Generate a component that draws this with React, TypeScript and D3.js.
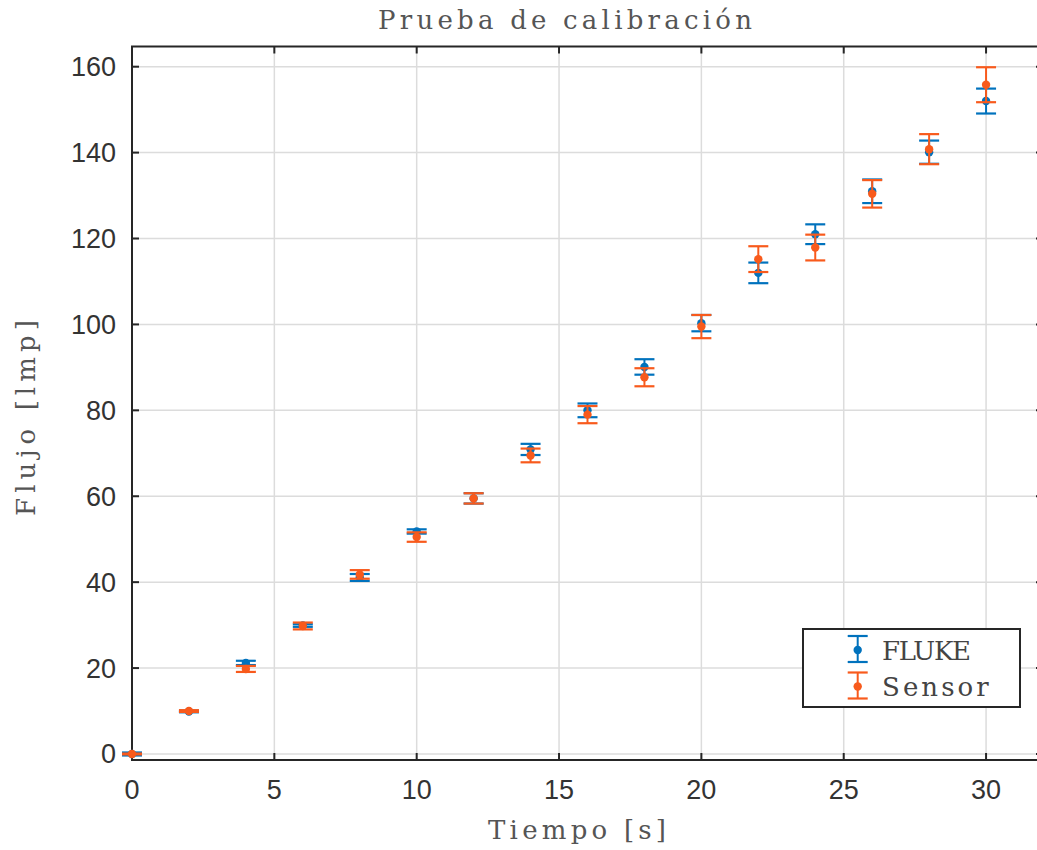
import React from "react";
import * as d3 from "d3";

const tiempo = [0, 2, 4, 6, 8, 10, 12, 14, 16, 18, 20, 22, 24, 26, 28, 30];
const flukeValues = [0, 9.9, 21.2, 29.9, 41.1, 51.8, 59.5, 70.9, 80.0, 90.1, 100.3, 112.0, 121.0, 131.0, 140.1, 152.0];
const flukeErrors = [0.35, 0.2, 0.5, 0.3, 0.8, 0.5, 1.2, 1.3, 1.6, 1.8, 1.9, 2.4, 2.3, 2.75, 2.7, 2.9];
const sensorValues = [0, 10.0, 19.8, 29.8, 41.8, 50.5, 59.5, 69.5, 79.0, 87.7, 99.5, 115.2, 117.9, 130.4, 140.8, 155.8];
const sensorErrors = [0.1, 0.2, 0.7, 0.8, 1.0, 1.1, 1.2, 1.6, 2.0, 2.1, 2.7, 3.0, 3.0, 3.2, 3.5, 4.07];
const xTicks = [0, 5, 10, 15, 20, 25, 30];
const yTicks = [0, 20, 40, 60, 80, 100, 120, 140, 160];
const seriesNames = ["FLUKE", "Sensor"];
const seriesColors = ["#0072BD", "#F85A1C"];

const W = 1037;
const H = 850;
const left = 132;
const right = 1043;
const top = 46.5;
const bottom = 760;

const x = d3.scaleLinear().domain([0, 32]).range([left, right]);
const y = d3.scaleLinear().domain([-1.4, 164.7]).range([bottom, top]);

const labelFont = "'DejaVu Serif', serif";
const tickFont = "'Liberation Sans', Arial, sans-serif";
const CHAR = 17.8;

function ErrorSeries({ vals, errs, color }: { vals: number[]; errs: number[]; color: string }) {
  const cap = 10;
  return (
    <g stroke={color} fill={color}>
      {tiempo.map((t, i) => {
        const cx = x(t);
        const y1 = y(vals[i] + errs[i]);
        const y2 = y(vals[i] - errs[i]);
        return (
          <g key={i}>
            <line x1={cx} x2={cx} y1={y1} y2={y2} strokeWidth={2} />
            <line x1={cx - cap} x2={cx + cap} y1={y1} y2={y1} strokeWidth={2.2} />
            <line x1={cx - cap} x2={cx + cap} y1={y2} y2={y2} strokeWidth={2.2} />
            <circle cx={cx} cy={y(vals[i])} r={4.2} stroke="none" />
          </g>
        );
      })}
    </g>
  );
}

export default function App() {
  const axisColor = "#262626";
  const tickLen = 7;
  const series = [
    { vals: flukeValues, errs: flukeErrors },
    { vals: sensorValues, errs: sensorErrors },
  ];
  return (
    <svg
      width={W}
      height={H}
      style={{ position: "absolute", left: 0, top: 0, background: "#fff" }}
    >
      <rect x={0} y={0} width={W} height={H} fill="#fff" />
      {/* grid */}
      <g stroke="#dcdcdc" strokeWidth={1.5}>
        {xTicks.map((t) => (
          <line key={"gx" + t} x1={x(t)} x2={x(t)} y1={top} y2={bottom} />
        ))}
        {yTicks.map((t) => (
          <line key={"gy" + t} x1={left} x2={right} y1={y(t)} y2={y(t)} />
        ))}
      </g>
      {/* box and ticks */}
      <g stroke={axisColor} strokeWidth={2} fill="none">
        <rect x={left} y={top} width={right - left} height={bottom - top} />
        {xTicks.map((t) => (
          <g key={"tx" + t}>
            <line x1={x(t)} x2={x(t)} y1={bottom} y2={bottom - tickLen} />
            <line x1={x(t)} x2={x(t)} y1={top} y2={top + tickLen} />
          </g>
        ))}
        {yTicks.map((t) => (
          <g key={"ty" + t}>
            <line x1={left} x2={left + tickLen} y1={y(t)} y2={y(t)} />
            <line x1={right} x2={right - tickLen} y1={y(t)} y2={y(t)} />
          </g>
        ))}
      </g>
      {/* tick labels */}
      <g fill="#333" fontFamily={tickFont} fontSize={27}>
        {xTicks.map((t) => (
          <text key={"lx" + t} x={x(t)} y={799} textAnchor="middle">
            {t}
          </text>
        ))}
        {yTicks.map((t) => (
          <text key={"ly" + t} x={116} y={y(t) + 9.5} textAnchor="end">
            {t}
          </text>
        ))}
      </g>
      {/* data */}
      {series.map((s, i) => (
        <ErrorSeries key={i} vals={s.vals} errs={s.errs} color={seriesColors[i]} />
      ))}
      {/* title and labels */}
      <g fill="#555" fontFamily={labelFont} fontSize={26}>
        <text x={565} y={29} textAnchor="middle" textLength={21 * CHAR} lengthAdjust="spacing">
          Prueba de calibración
        </text>
        <text x={577} y={839} textAnchor="middle" textLength={10 * CHAR} lengthAdjust="spacing">
          Tiempo [s]
        </text>
        <text
          transform={`translate(35,418) rotate(-90)`}
          textAnchor="middle"
          textLength={11 * CHAR}
          lengthAdjust="spacing"
        >
          Flujo [lmp]
        </text>
      </g>
      {/* legend */}
      <g>
        <rect x={803} y={629} width={217} height={78} fill="#fff" stroke={axisColor} strokeWidth={2} />
        {seriesNames.map((name, i) => {
          const cy = 649 + i * 36.5;
          const lx = 857.7;
          return (
            <g key={name}>
              <g stroke={seriesColors[i]} fill={seriesColors[i]}>
                <line x1={lx} x2={lx} y1={cy - 13} y2={cy + 13} strokeWidth={2} />
                <line x1={lx - 10} x2={lx + 10} y1={cy - 13} y2={cy - 13} strokeWidth={2.2} />
                <line x1={lx - 10} x2={lx + 10} y1={cy + 13} y2={cy + 13} strokeWidth={2.2} />
                <circle cx={lx} cy={cy + 1} r={4.2} stroke="none" />
              </g>
              <text
                x={882}
                y={cy + 10.5}
                fill="#444"
                fontFamily={labelFont}
                fontSize={26}
                textLength={name.length * CHAR}
                lengthAdjust="spacing"
              >
                {name}
              </text>
            </g>
          );
        })}
      </g>
    </svg>
  );
}
